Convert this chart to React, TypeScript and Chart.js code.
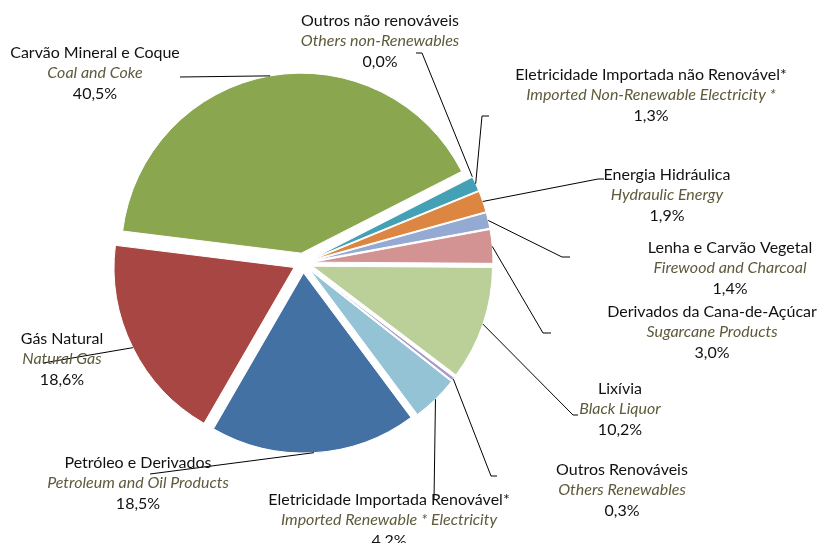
import React, { useEffect, useRef } from "react";
import { Chart, registerables } from "chart.js";

Chart.register(...registerables);

// Data, clockwise from the top-right
const categoriesPt = [
  "Outros não renováveis",
  "Eletricidade Importada não Renovável*",
  "Energia Hidráulica",
  "Lenha e Carvão Vegetal",
  "Derivados da Cana-de-Açúcar",
  "Lixívia",
  "Outros Renováveis",
  "Eletricidade Importada Renovável*",
  "Petróleo e Derivados",
  "Gás Natural",
  "Carvão Mineral e Coque",
];
const categoriesEn = [
  "Others non-Renewables",
  "Imported Non-Renewable Electricity *",
  "Hydraulic Energy",
  "Firewood and Charcoal",
  "Sugarcane Products",
  "Black Liquor",
  "Others Renewables",
  "Imported Renewable * Electricity",
  "Petroleum and Oil Products",
  "Natural Gas",
  "Coal and Coke",
];
const shares = [0.0, 1.3, 1.9, 1.4, 3.0, 10.2, 0.3, 4.2, 18.5, 18.6, 40.5];
const colors = [
  "#7f7f7f",
  "#43A0B5",
  "#DD8641",
  "#95AAD3",
  "#D39393",
  "#BBCF98",
  "#A89BC7",
  "#93C3D5",
  "#4471A4",
  "#A84644",
  "#8AA64F",
];

// Label layout: centre x, first-line y, leader-line elbow points
const labelX = [380, 651, 667, 730, 712, 620, 622, 389, 138, 62, 95];
const labelY = [21, 75, 175, 248, 312, 389, 470, 500, 463, 339, 53];
const leaderPts: number[][][] = [
  [[422, 53], [416, 53]],
  [[482, 116], [489, 116]],
  [[598, 179], [604, 179]],
  [[562, 257], [570, 257]],
  [[543, 333], [551, 333]],
  [[573, 415], [578, 415]],
  [[491, 476], [497, 476]],
  [[434, 500]],
  [[150, 474]],
  [[43, 363]],
  [[180, 77]],
];

const EXPLODE = 10;
const FONT = "Lato, 'Open Sans', sans-serif";
const FONT_SIZE = 16;
const LINE_H = 20.3;

const explodePlugin = {
  id: "explode",
  beforeDatasetDraw(chart: any, args: any) {
    const ctx = chart.ctx;
    args.meta.data.forEach((arc: any) => {
      const p = arc.getProps(["startAngle", "endAngle"], true);
      const mid = (p.startAngle + p.endAngle) / 2;
      ctx.save();
      ctx.translate(Math.cos(mid) * EXPLODE, Math.sin(mid) * EXPLODE);
      arc.draw(ctx);
      ctx.restore();
    });
    return false;
  },
};

const labelPlugin = {
  id: "pieLabels",
  afterDraw(chart: any) {
    const ctx = chart.ctx;
    const meta = chart.getDatasetMeta(0);
    ctx.save();
    ctx.strokeStyle = "#000";
    ctx.lineWidth = 1;
    meta.data.forEach((arc: any, i: number) => {
      const p = arc.getProps(["x", "y", "startAngle", "endAngle", "outerRadius"], true);
      const mid = (p.startAngle + p.endAngle) / 2;
      const r = p.outerRadius + EXPLODE;
      const ax = p.x + Math.cos(mid) * r;
      const ay = p.y + Math.sin(mid) * r;
      ctx.beginPath();
      ctx.moveTo(ax, ay);
      leaderPts[i].forEach(([x, y]) => ctx.lineTo(x, y));
      ctx.stroke();
    });
    ctx.textAlign = "center";
    ctx.textBaseline = "middle";
    for (let i = 0; i < categoriesPt.length; i++) {
      const x = labelX[i];
      const y = labelY[i];
      ctx.fillStyle = "#111";
      ctx.font = `${FONT_SIZE}px ${FONT}`;
      ctx.fillText(categoriesPt[i], x, y);
      ctx.fillStyle = "#5E5A3B";
      ctx.font = `italic ${FONT_SIZE}px ${FONT}`;
      ctx.fillText(categoriesEn[i], x, y + LINE_H);
      ctx.fillStyle = "#111";
      ctx.font = `${FONT_SIZE}px ${FONT}`;
      ctx.fillText(shares[i].toFixed(1).replace(".", ",") + "%", x, y + 2 * LINE_H);
    }
    ctx.restore();
  },
};

export default function App() {
  const ref = useRef<HTMLCanvasElement | null>(null);
  useEffect(() => {
    if (!ref.current) return;
    const chart = new Chart(ref.current, {
      type: "pie",
      data: {
        labels: categoriesPt,
        datasets: [
          {
            data: shares,
            backgroundColor: colors,
            borderColor: "#ffffff",
            borderWidth: 1,
          },
        ],
      },
      options: {
        responsive: false,
        animation: false,
        rotation: 63,
        radius: 180,
        layout: { padding: { left: 0, right: 216, top: 0, bottom: 17 } },
        plugins: {
          legend: { display: false },
          tooltip: { enabled: false },
        },
      },
      plugins: [explodePlugin, labelPlugin],
    });
    return () => chart.destroy();
  }, []);
  return (
    <div style={{ position: "fixed", left: 0, top: 0, width: 822, height: 543, background: "#fff" }}>
      <canvas ref={ref} width={822} height={543} />
    </div>
  );
}
